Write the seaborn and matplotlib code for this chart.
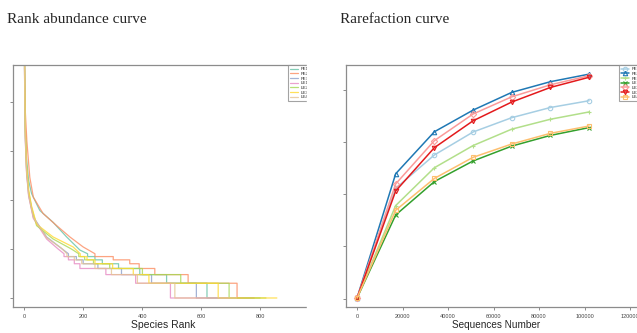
import matplotlib
matplotlib.use('Agg')
import matplotlib.pyplot as plt
import seaborn as sns
from matplotlib.patches import Rectangle
from matplotlib.ticker import NullLocator

samples = ['FE1', 'FE2', 'FE3', 'LE1', 'LE2', 'LE3', 'LE4']

# rank abundance: smooth head of each curve (rank, abundance)
fe1_rank = [1, 2, 4, 8, 15, 25, 53, 98, 144, 189, 215]
fe1_abund = [80000, 20000, 3000, 700, 250, 135, 61, 35, 17.6, 9.5, 8]
fe2_rank = [1, 2, 4, 9, 19, 31, 64, 110, 155, 200, 240]
fe2_abund = [100000, 30000, 6000, 1600, 290, 114, 53, 30, 17.6, 11, 8]
fe3_rank = [1, 2, 4, 8, 15, 31, 76, 120, 150]
fe3_abund = [60000, 12000, 1800, 400, 130, 45, 17.6, 11, 8]
le1_rank = [1, 2, 4, 8, 15, 31, 76, 115, 135]
le1_abund = [50000, 10000, 1500, 350, 120, 42, 16, 10, 8]
le2_rank = [1, 2, 4, 8, 15, 25, 42, 98, 160, 185]
le2_abund = [70000, 15000, 2000, 450, 150, 70, 30, 16, 10, 8]
le3_rank = [1, 2, 4, 8, 15, 25, 42, 98, 166, 190]
le3_abund = [90000, 20000, 2500, 500, 160, 75, 32, 17.6, 11, 8]
le4_rank = [1, 2, 4, 8, 15, 31, 76, 125, 145]
le4_abund = [55000, 11000, 1600, 380, 125, 44, 17, 10.5, 8]

# tail: rank where abundance levels 7..1 end
tail_levels = [7, 6, 5, 4, 3, 2, 1]
fe1_ends = [240, 265, 320, 392, 483, 620, 800]
fe2_ends = [302, 358, 390, 443, 556, 722, 780]
fe3_ends = [177, 200, 250, 330, 432, 584, 780]
le1_ends = [150, 170, 189, 277, 378, 496, 740]
le2_ends = [205, 235, 290, 401, 531, 695, 820]
le3_ends = [213, 240, 300, 370, 423, 658, 857]
le4_ends = [170, 195, 240, 296, 384, 511, 720]

# rarefaction
depth = [0, 17000, 34000, 51000, 68000, 85000, 102000]
fe1_otus = [2, 423, 551, 639, 694, 733, 759]
fe2_otus = [2, 479, 640, 723, 791, 832, 861]
fe3_otus = [2, 357, 502, 587, 650, 688, 716]
le1_otus = [2, 321, 449, 528, 585, 626, 656]
le2_otus = [2, 440, 606, 708, 774, 820, 855]
le3_otus = [2, 413, 579, 682, 754, 810, 849]
le4_otus = [2, 339, 461, 542, 593, 634, 662]


def rank_path(ranks, abund, ends):
    xs, ys = list(ranks), list(abund)
    for lvl, end in zip(tail_levels, ends):
        xs += [xs[-1], end]
        ys += [lvl, lvl]
    return xs, ys


sns.set_style('ticks')
plt.rcParams['font.family'] = ['Liberation Sans', 'DejaVu Sans']

W, H = 637, 333
fig = plt.figure(figsize=(W / 100, H / 100), dpi=100)
ax1 = fig.add_axes([13 / W, 1 - 307 / H, (314 - 13) / W, (307 - 65) / H])
ax2 = fig.add_axes([346 / W, 1 - 307 / H, (646 - 346) / W, (307 - 65) / H])

spine_col = '#8c8c8c'

# Rank abundance curve
rank_data = [(fe1_rank, fe1_abund, fe1_ends), (fe2_rank, fe2_abund, fe2_ends),
             (fe3_rank, fe3_abund, fe3_ends), (le1_rank, le1_abund, le1_ends),
             (le2_rank, le2_abund, le2_ends), (le3_rank, le3_abund, le3_ends),
             (le4_rank, le4_abund, le4_ends)]
set2 = sns.color_palette('Set2', 7)
for name, col, (r, a, e) in zip(samples, set2, rank_data):
    xs, ys = rank_path(r, a, e)
    sns.lineplot(ax=ax1, x=xs, y=ys, sort=False, estimator=None, color=col,
                 lw=0.9, alpha=0.8, label=name)
ax1.set_yscale('log')
ax1.set_xlim(-38, 983)
ax1.set_ylim(10 ** -0.184, 10 ** 4.755)
ax1.set_xticks([0, 200, 400, 600, 800])
ax1.set_yticks([1, 10, 100, 1000, 10000])
ax1.yaxis.set_minor_locator(NullLocator())
ax1.set_yticklabels([])
ax1.set_xlabel('Species Rank', fontsize=7.5, labelpad=1)
ax1.set_ylabel('')

# Rarefaction curve
rare_data = [fe1_otus, fe2_otus, fe3_otus, le1_otus, le2_otus, le3_otus, le4_otus]
paired = sns.color_palette('Paired', 7)
markers = ['o', '^', '+', 'x', 'D', 'v', 's']
for name, col, m, vals in zip(samples, paired, markers, rare_data):
    sns.lineplot(ax=ax2, x=depth, y=vals, color=col, lw=1.1, marker=m,
                 markersize=3.2, markerfacecolor='none', markeredgecolor=col,
                 markeredgewidth=0.8, label=name)
ax2.set_xlim(-4835, 127000)
ax2.set_ylim(-32, 896)
ax2.set_xticks([0, 20000, 40000, 60000, 80000, 100000, 120000])
ax2.set_yticks([0, 200, 400, 600, 800])
ax2.set_yticklabels([])
ax2.set_xlabel('Sequences Number', fontsize=7.2, labelpad=1)
ax2.set_ylabel('')

for ax, lx in [(ax1, (288 - 13) / 301), (ax2, (619 - 346) / 300)]:
    for s in ax.spines.values():
        s.set_color(spine_col)
        s.set_linewidth(0.9)
    ax.tick_params(length=2.2, width=0.7, color=spine_col, labelsize=4,
                   labelcolor='#444444', pad=2.5)
    leg = ax.legend(loc='upper left', bbox_to_anchor=(lx, 1.0), borderaxespad=0,
                    fontsize=3.2, labelspacing=0.12, borderpad=0.5,
                    handlelength=1.8, handletextpad=0.6, fancybox=False,
                    frameon=True)
    leg.get_frame().set_edgecolor(spine_col)
    leg.get_frame().set_linewidth(0.8)

# the source image is cropped between the two panels
fig.patches.append(Rectangle((306.5 / W, 0), (340 - 306.5) / W, 1,
                             transform=fig.transFigure, color='white', zorder=10))

fig.text(7 / W, 1 - 23 / H, 'Rank abundance curve', fontsize=11,
         family='Liberation Serif', va='baseline')
fig.text(340 / W, 1 - 23 / H, 'Rarefaction curve', fontsize=11,
         family='Liberation Serif', va='baseline')

fig.savefig('out.png', dpi=100)
